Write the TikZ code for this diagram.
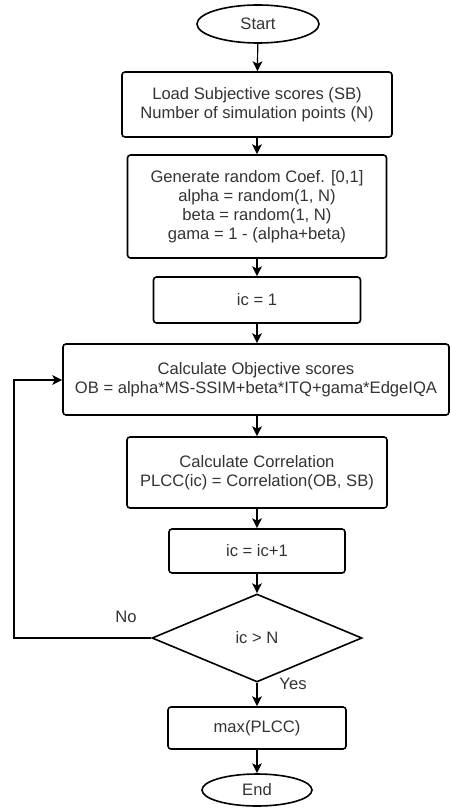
\documentclass[tikz,border=0pt]{standalone}
\usepackage{fontspec}
\setmainfont{Liberation Sans}
\usetikzlibrary{shapes.geometric,arrows.meta}
\definecolor{txt}{HTML}{333333}
\begin{document}
\begin{tikzpicture}[x=1pt,y=-1pt,
  every node/.style={font=\fontsize{16.6}{19}\selectfont, text=txt},
  proc/.style={draw=black, line width=1.6pt, rounded corners=3pt, align=center, inner sep=0pt},
  term/.style={draw=black, line width=1.6pt, ellipse, inner sep=0pt},
  decide/.style={draw=black, line width=1.6pt, diamond, inner sep=0pt, aspect=2.39},
  flow/.style={line width=1.2pt, -{Stealth[length=10pt,width=10pt,inset=2.5pt,line width=0pt]}},
  lbl/.style={inner sep=0pt}
]
\useasboundingbox (0,0) rectangle (450,810);
\node[term, minimum width=122pt, minimum height=38pt] (start) at (258,24) {Start};
\node[proc, minimum width=270pt, minimum height=65pt] (load) at (257,104.5) {Load Subjective scores (SB)\\Number of simulation points (N)};
\node[proc, minimum width=259pt, minimum height=103pt] (gen) at (257,206.5) {Generate random Coef. [0,1]\\alpha = random(1, N)\\beta = random(1, N)\\gama = 1 - (alpha+beta)};
\node[proc, minimum width=207pt, minimum height=46pt] (ic1) at (257,300) {ic = 1};
\node[proc, minimum width=386pt, minimum height=71pt] (obj) at (256,379.5) {Calculate Objective scores\\OB = alpha*MS-SSIM+beta*ITQ+gama*EdgeIQA};
\node[proc, minimum width=260pt, minimum height=71pt] (corr) at (257,472.5) {Calculate Correlation\\PLCC(ic) = Correlation(OB, SB)};
\node[proc, minimum width=176pt, minimum height=44pt] (inc) at (257,551) {ic = ic+1};
\node[decide, minimum width=210pt, minimum height=88pt] (dec) at (257,638) {ic > N};
\node[proc, minimum width=178pt, minimum height=42pt] (max) at (257,728) {max(PLCC)};
\node[term, minimum width=110pt, minimum height=32pt] (end) at (257,790) {End};
\coordinate (lb) at (14,638);
\coordinate (lt) at (14,380);
\draw[flow] (start) -- (load);
\draw[flow] (load) -- (gen);
\draw[flow] (gen) -- (ic1);
\draw[flow] (ic1) -- (ic1 |- obj.north);
\draw[flow] (corr |- obj.south) -- (corr);
\draw[flow] (corr) -- (inc);
\draw[flow] (inc) -- (dec);
\draw[flow] (dec) -- (max);
\draw[flow] (max) -- (end);
\draw[flow] (dec.west) -- (lb) -- (lt) -- (lt -| obj.west);
\node[lbl] (no) at (126,617) {No};
\node[lbl] (yes) at (293,684) {Yes};
\end{tikzpicture}
\end{document}
